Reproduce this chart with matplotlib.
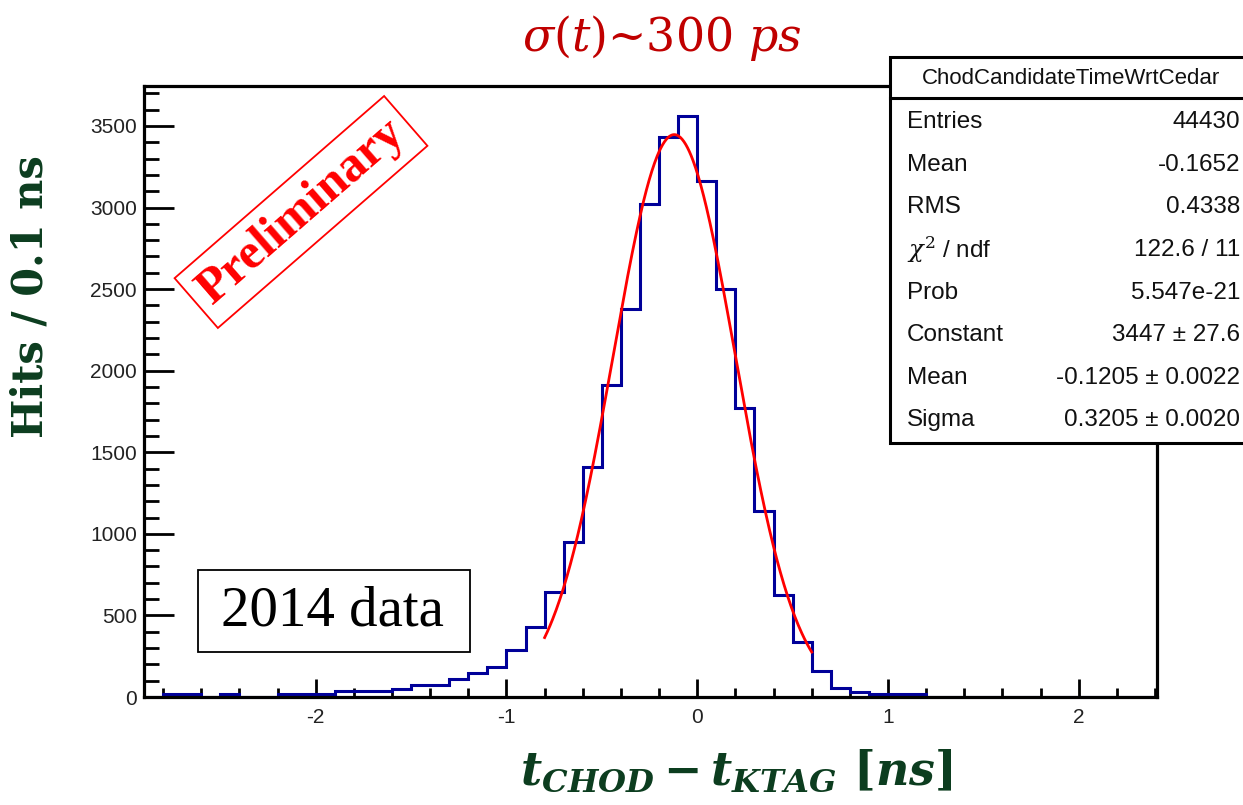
import numpy as np
import matplotlib
matplotlib.use('Agg')
import matplotlib.pyplot as plt
from matplotlib.patches import Rectangle

plt.rcParams['axes.unicode_minus'] = False
plt.rcParams['mathtext.fontset'] = 'custom'
plt.rcParams['mathtext.rm'] = 'DejaVu Serif'
plt.rcParams['mathtext.it'] = 'DejaVu Serif:italic'
plt.rcParams['mathtext.bf'] = 'DejaVu Serif:bold:italic'

# histogram: 0.1 ns bins starting at -2.9 ns
bin_lo = -2.9
bin_width = 0.1
counts = [0, 20, 20, 0, 20, 0, 0, 20, 20, 20,
          37, 37, 37, 51, 73, 73, 108, 145, 186, 288,
          426, 644, 949, 1410, 1914, 2377, 3021, 3431, 3560, 3162,
          2501, 1769, 1143, 628, 340, 159, 54, 31, 16, 16,
          16, 0, 0, 0, 0, 0, 0, 0, 0, 0,
          0, 0, 0]

# gaussian fit shown in the stats box
fit_const = 3447
fit_mean = -0.1205
fit_sigma = 0.3205
fit_range = (-0.8, 0.6)

stat_names = ['Entries', 'Mean', 'RMS', r'$\chi^{2}$ / ndf', 'Prob',
              'Constant', 'Mean', 'Sigma']
stat_values = ['44430', '-0.1652', '0.4338', '122.6 / 11', '5.547e-21',
               '3447 \u00b1 27.6', '-0.1205 \u00b1 0.0022',
               '0.3205 \u00b1 0.0020']

W, H = 1243, 805
green = '#0c3d1f'

fig = plt.figure(figsize=(W / 100, H / 100), dpi=100)
ax = fig.add_axes([144 / W, 1 - 697 / H, (1157 - 144) / W, (697 - 86) / H])

edges = bin_lo + bin_width * np.arange(len(counts) + 1)
ax.stairs(counts, edges, color='#000099', lw=2.2, zorder=2)

xf = np.linspace(fit_range[0], fit_range[1], 300)
yf = fit_const * np.exp(-0.5 * ((xf - fit_mean) / fit_sigma) ** 2)
ax.plot(xf, yf, color='red', lw=2.0, zorder=3)

ax.set_xlim(-2.9, 2.41)
ax.set_ylim(0, 3745)
ax.set_xticks([-2, -1, 0, 1, 2])
ax.set_xticks(np.arange(-2.8, 2.41, 0.2), minor=True)
ax.set_yticks(np.arange(0, 3501, 500))
ax.set_yticks(np.arange(0, 3745, 100), minor=True)
ax.tick_params(axis='both', which='both', direction='in', width=2,
               colors='black', labelcolor='#222222', labelsize=15)
ax.tick_params(axis='x', which='major', length=13, pad=8)
ax.tick_params(axis='x', which='minor', length=6.5)
ax.tick_params(axis='y', which='major', length=21.6, pad=5)
ax.tick_params(axis='y', which='minor', length=10.8)
for lab in ax.get_xticklabels() + ax.get_yticklabels():
    lab.set_family('Liberation Sans')
for s in ax.spines.values():
    s.set_linewidth(2.3)

# labels and title
fig.text(31 / W, 1 - 297 / H, 'Hits / 0.1 ns', rotation=90, ha='center',
         va='center', family='DejaVu Serif', weight='bold', fontsize=30,
         color=green)
fig.text(736 / W, 1 - 772 / H, r'$\mathbf{t_{CHOD} - t_{KTAG}}$ [$\mathbf{ns}$]',
         ha='center', va='center', family='DejaVu Serif', weight='bold',
         fontsize=33, color=green)
fig.text(662 / W, 1 - 38 / H, r'$\sigma(t)$~300 $ps$', ha='center',
         va='center', family='DejaVu Serif', fontsize=33, color='#c00000')

# preliminary stamp
fig.text(301 / W, 1 - 212 / H, 'Preliminary', rotation=41,
         rotation_mode='anchor', ha='center', va='center',
         family='Liberation Serif', weight='bold', fontsize=36, color='red',
         bbox=dict(boxstyle='square,pad=0.2', fc='none', ec='red', lw=1.3))

# 2014 data box
fig.add_artist(Rectangle((198 / W, 1 - 652 / H), 272 / W, 82 / H,
                         transform=fig.transFigure, fc='white', ec='black',
                         lw=1.3, zorder=4))
fig.text(332 / W, 1 - 611 / H, '2014 data', ha='center', va='center',
         family='Liberation Serif', fontsize=41, color='black', zorder=5)

# stats box
fig.add_artist(Rectangle((890 / W, 1 - 443 / H), 360 / W, (443 - 57) / H,
                         transform=fig.transFigure, fc='white', ec='black',
                         lw=2.2, zorder=5))
fig.add_artist(plt.Line2D([890 / W, 1], [1 - 98 / H, 1 - 98 / H],
                          transform=fig.transFigure, color='black', lw=2.2,
                          zorder=6))
fig.text(1071 / W, 1 - 79 / H, 'ChodCandidateTimeWrtCedar', ha='center',
         va='center', family='Liberation Sans', fontsize=16, color='#111111',
         zorder=7)
row_y = [122, 165, 207, 250, 293, 335, 378, 420]
for name, val, y in zip(stat_names, stat_values, row_y):
    fig.text(907 / W, 1 - y / H, name, ha='left', va='center',
             family='Liberation Sans', fontsize=17.5, color='#111111', zorder=7)
    fig.text(1240 / W, 1 - y / H, val, ha='right', va='center',
             family='Liberation Sans', fontsize=17.5, color='#111111', zorder=7)

fig.savefig('out.png', dpi=100)
